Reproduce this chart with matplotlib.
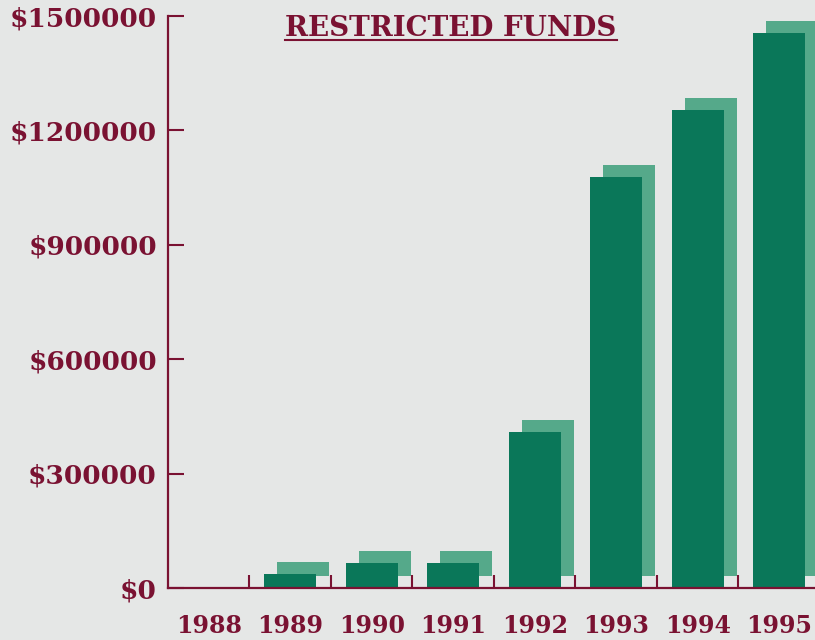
import matplotlib
matplotlib.use('Agg')
import matplotlib.pyplot as plt
import matplotlib.transforms as mtransforms
from matplotlib.lines import Line2D
from matplotlib.ticker import FuncFormatter

years = ['1988', '1989', '1990', '1991', '1992', '1993', '1994', '1995']
funds = [0, 37000, 65000, 65000, 408000, 1078000, 1254000, 1455000]
y_ticks = [0, 300000, 600000, 900000, 1200000, 1500000]

maroon = '#7a1232'
green = '#0a7759'
shadow_green = '#55a98a'
paper = '#e5e7e6'

plt.rcParams['font.family'] = 'DejaVu Serif'
plt.rcParams['font.weight'] = 'bold'

fig = plt.figure(figsize=(8.15, 6.4), dpi=100, facecolor=paper)
ax = fig.add_axes([0.2061, 0.08125, 0.7939, 0.89375])
ax.set_facecolor(paper)

x = list(range(len(years)))

# shadow copy of the bars, shifted right and up
shadow_tr = mtransforms.offset_copy(ax.transData, fig=fig, x=13, y=12, units='dots')
ax.bar(x, funds, width=0.64, color=shadow_green, transform=shadow_tr, zorder=1, clip_on=False)
ax.bar(x, funds, width=0.64, color=green, zorder=2)

ax.set_xlim(-0.5, 7.44)
ax.set_ylim(0, 1500000)

for s in ['top', 'right']:
    ax.spines[s].set_visible(False)
for s in ['left', 'bottom']:
    ax.spines[s].set_color(maroon)
    ax.spines[s].set_linewidth(1.6)
    ax.spines[s].set_zorder(3)

ax.set_yticks(y_ticks)
ax.yaxis.set_major_formatter(FuncFormatter(lambda v, p: '\\$%d' % v))
ax.tick_params(axis='y', direction='in', length=11.5, width=1.5, color=maroon,
               labelcolor=maroon, labelsize=19, pad=8)

ax.set_xticks(x)
ax.set_xticklabels(years)
ax.tick_params(axis='x', which='major', length=0, labelcolor=maroon, labelsize=17, pad=19)
ax.set_xticks([i + 0.5 for i in range(len(years) - 1)], minor=True)
ax.tick_params(axis='x', which='minor', direction='in', length=9.5, width=1.5, color=maroon)

title = fig.text(0.5534, 0.944, 'RESTRICTED FUNDS', ha='center', va='baseline',
                 fontsize=20, fontweight='bold', color=maroon)

fig.canvas.draw()
bb = title.get_window_extent().transformed(fig.transFigure.inverted())
fig.add_artist(Line2D([bb.x0, bb.x1], [0.938, 0.938], color=maroon, lw=1.5,
                      transform=fig.transFigure))

fig.savefig('out.png', dpi=100, facecolor=paper)
